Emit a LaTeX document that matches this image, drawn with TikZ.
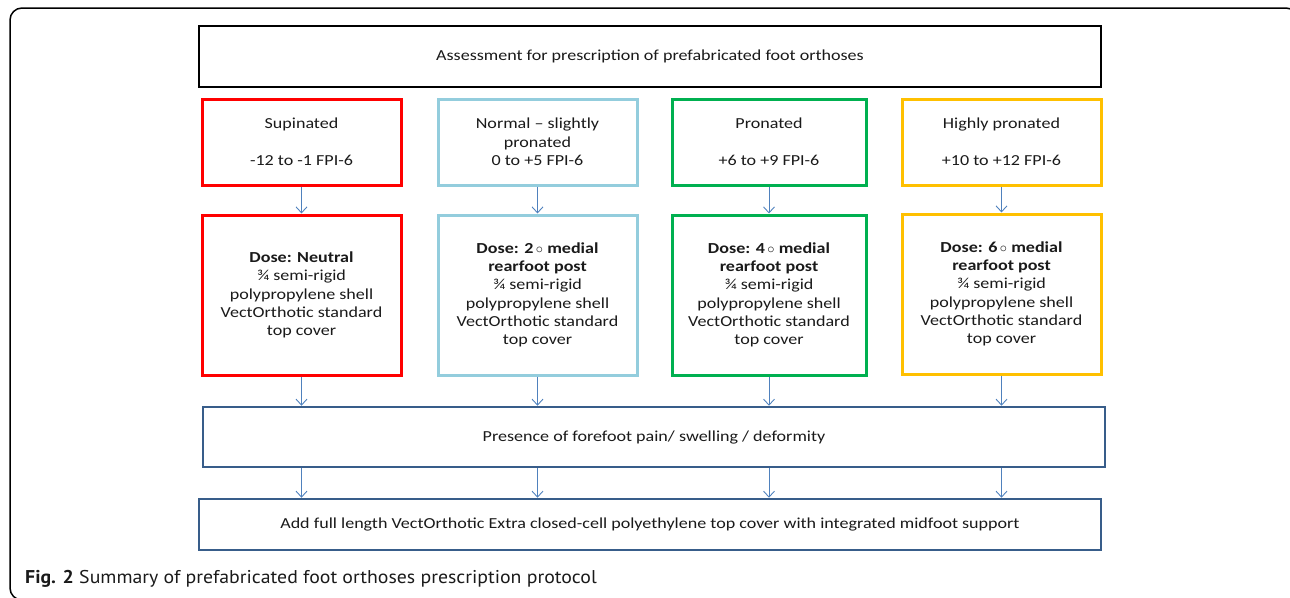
\documentclass[tikz,border=0pt]{standalone}
\usepackage{fontspec}
\setmainfont[FakeStretch=1.18]{Carlito}
\newfontfamily\capfont[FakeStretch=1.07]{PT Sans}
\usetikzlibrary{arrows.meta}
\definecolor{cred}{HTML}{FF0000}
\definecolor{cblue}{HTML}{93CDDD}
\definecolor{cgreen}{HTML}{00B050}
\definecolor{cyel}{HTML}{FFC000}
\definecolor{cdark}{HTML}{385D8A}
\definecolor{carrow}{HTML}{4F81BD}
\definecolor{ctext}{HTML}{1A1A1A}
\begin{document}
\begin{tikzpicture}[x=1pt,y=-1pt,
  box/.style={draw, line width=3pt, fill=white, align=center, inner sep=0pt, text=ctext,
    font=\fontsize{15.3}{18.3}\selectfont},
  arr/.style={-{Straight Barb[length=6pt,width=11pt]}, draw=carrow, line width=0.9pt},
  frame/.style={line width=1.5pt, rounded corners=12pt},
  captxt/.style={anchor=base west, inner sep=0pt, text=ctext, font=\capfont\fontsize{18.5}{22}\selectfont}]
\useasboundingbox (0,0) rectangle (1290,597);
\begin{scope}
\clip (0,0) rectangle (1290,597);
\draw[frame] (10,8) rectangle (1298,600);
\end{scope}
% top
\node[box, draw=black, line width=2pt, minimum width=902pt, minimum height=61pt] (top) at (650,56.5)
  {Assessment for prescription of prefabricated foot orthoses};
% row 1
\node[box, draw=cred, minimum width=199pt, minimum height=86pt] (r1a) at (301.5,142)
  {Supinated\\[18.3pt]-12 to -1 FPI-6};
\node[box, draw=cblue, minimum width=199pt, minimum height=86pt] (r1b) at (537.5,142)
  {Normal -- slightly\\pronated\\0 to +5 FPI-6};
\node[box, draw=cgreen, minimum width=194pt, minimum height=86pt] (r1c) at (769,142)
  {Pronated\\[18.3pt]+6 to +9 FPI-6};
\node[box, draw=cyel, minimum width=199pt, minimum height=86pt] (r1d) at (1001.5,142)
  {Highly pronated\\[18.3pt]+10 to +12 FPI-6};
% row 2
\node[box, draw=cred, minimum width=199pt, minimum height=160pt] (r2a) at (301.5,295)
  {\textbf{Dose: Neutral}\\¾ semi-rigid\\polypropylene shell\\VectOrthotic standard\\top cover};
\node[box, draw=cblue, minimum width=199pt, minimum height=160pt] (r2b) at (537.5,295)
  {\textbf{Dose: 2\,$\circ$ medial}\\\textbf{rearfoot post}\\¾ semi-rigid\\polypropylene shell\\VectOrthotic standard\\top cover};
\node[box, draw=cgreen, minimum width=194pt, minimum height=160pt] (r2c) at (769,295)
  {\textbf{Dose: 4\,$\circ$ medial}\\\textbf{rearfoot post}\\¾ semi-rigid\\polypropylene shell\\VectOrthotic standard\\top cover};
\node[box, draw=cyel, minimum width=199pt, minimum height=160pt] (r2d) at (1001.5,294)
  {\textbf{Dose: 6\,$\circ$ medial}\\\textbf{rearfoot post}\\¾ semi-rigid\\polypropylene shell\\VectOrthotic standard\\top cover};
% presence
\node[box, draw=cdark, line width=2.5pt, minimum width=902pt, minimum height=60pt] (pres) at (654,437)
  {Presence of forefoot pain/ swelling / deformity};
% bottom
\node[box, draw=cdark, line width=2.5pt, minimum width=902pt, minimum height=51pt] (bot) at (650,524.5)
  {Add full length VectOrthotic Extra closed-cell polyethylene top cover with integrated midfoot support};
% arrows
\foreach \c in {a,b,c,d}{
  \draw[arr] (r1\c.south) -- (r2\c.north);
  \draw[arr] (r2\c.south) -- (r2\c.south |- pres.north);
  \draw[arr] (r2\c.south |- pres.south) -- (r2\c.south |- bot.north);
}
% caption
\node[captxt] (cap) at (25,583) {\textbf{Fig. 2} Summary of prefabricated foot orthoses prescription protocol};
\end{tikzpicture}
\end{document}
